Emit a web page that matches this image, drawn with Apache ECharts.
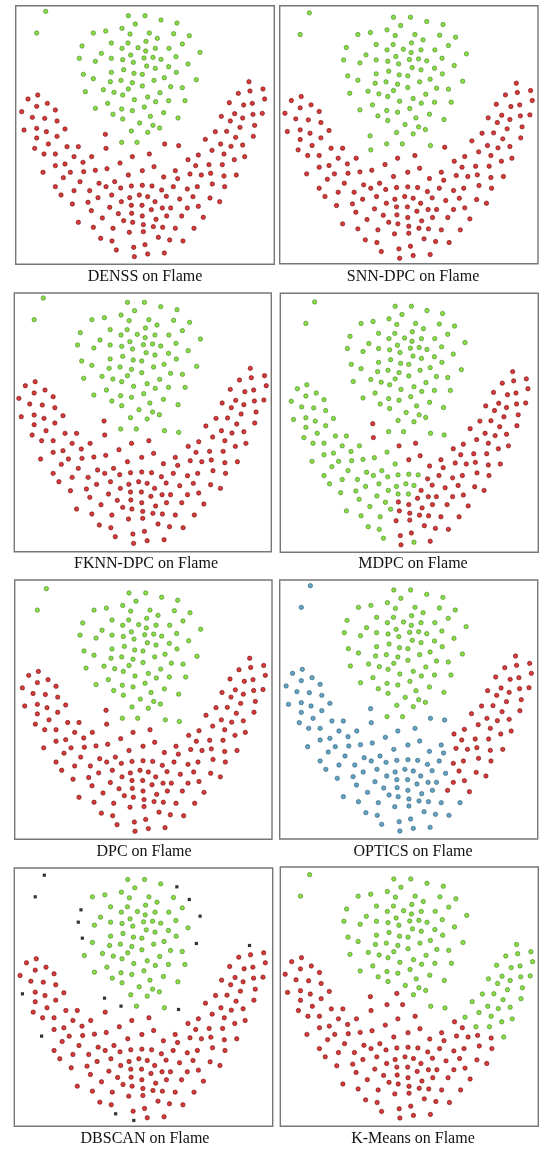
<!DOCTYPE html>
<html>
<head>
<meta charset="utf-8">
<script src="https://cdn.jsdelivr.net/npm/echarts@6/dist/echarts.min.js"></script>
<style>
  html, body { margin: 0; padding: 0; background: #fff; }
  #chart { width: 539px; height: 1149px; }
</style>
</head>
<body>
<div id="chart"></div>
<script>
// Flame data set, clustered by eight methods.
// Each point: [x, y, labels]; labels holds one character per method, in the
// order of `methods`: g = green cluster, r = red cluster, b = blue cluster, k = noise.
const methods = ['DENSS', 'SNN-DPC', 'FKNN-DPC', 'MDPC', 'DPC', 'OPTICS', 'DBSCAN', 'K-Means'];

// two isolated points in the upper-left corner
const outlierPoints = [
  [95, 22, 'gggggbkg'], [68, 87, 'gggggbkg']
];

// upper round blob
const blobPoints = [
  [343, 35, 'gggggggg'], [393, 35, 'gggggggg'], [441, 48, 'gggggggg'], [489, 57, 'ggggggkg'],
  [364, 60, 'gggggggg'], [275, 81, 'gggggggg'], [238, 87, 'gggggggg'], [324, 73, 'gggggggg'],
  [348, 90, 'gggggggg'], [406, 87, 'gggggggg'], [479, 89, 'gggggggg'], [526, 95, 'ggggggkg'],
  [430, 103, 'gggggggg'], [204, 126, 'ggggggkg'], [292, 117, 'gggggggg'], [342, 117, 'gggggggg'],
  [324, 133, 'gggggggg'], [372, 131, 'gggggggg'], [396, 112, 'gggggggg'], [424, 133, 'gggggggg'],
  [465, 133, 'gggggggg'], [505, 120, 'gggggggg'], [558, 145, 'ggggggkg'], [262, 148, 'gggggggg'],
  [196, 163, 'ggggggkg'], [244, 172, 'gggggggg'], [292, 163, 'gggggggg'], [326, 167, 'gggggggg'],
  [350, 153, 'gggggggg'], [390, 162, 'gggggggg'], [395, 141, 'gggggggg'], [417, 160, 'gggggggg'],
  [441, 166, 'gggggggg'], [486, 158, 'gggggggg'], [358, 175, 'gggggggg'], [398, 186, 'gggggggg'],
  [424, 193, 'gggggggg'], [464, 188, 'gggggggg'], [522, 180, 'gggggggg'], [208, 211, 'ggggggkg'],
  [292, 205, 'gggggggg'], [329, 197, 'gggggggg'], [360, 208, 'gggggggg'], [385, 211, 'gggggggg'],
  [451, 221, 'gggggggg'], [487, 205, 'gggggggg'], [238, 224, 'gggggggg'], [289, 233, 'gggggggg'],
  [321, 229, 'gggggggg'], [355, 236, 'gggggggg'], [420, 229, 'gggggggg'], [547, 227, 'ggggggkg'],
  [268, 257, 'gggggggg'], [300, 265, 'gggggggg'], [343, 255, 'gggggggg'], [385, 246, 'gggggggg'],
  [470, 248, 'gggggggg'], [505, 251, 'gggggggg'], [214, 263, 'gggggggg'], [326, 273, 'gggggggg'],
  [438, 266, 'gggggggg'], [401, 279, 'gggggggg'], [361, 287, 'gggggggg'], [425, 293, 'gggggggg'],
  [464, 290, 'gggggggg'], [513, 290, 'gggggggg'], [281, 298, 'gggggggg'], [244, 313, 'gggggggg'],
  [323, 315, 'gggggggg'], [355, 320, 'gggggggg'], [391, 309, 'gggggggg'], [449, 326, 'gggggggg'],
  [297, 331, 'gggggggg'], [409, 337, 'gggggggg'], [326, 345, 'gggggggg'], [492, 342, 'gggggggg'],
  [377, 357, 'gggggggg'], [417, 364, 'gggggggg'], [352, 381, 'gggggggr'], [401, 385, 'gggggggg'],
  [437, 372, 'gggggggg'], [323, 415, 'ggggggkr'], [369, 415, 'gggggggr']
];

// left arm of the lower band
const leftArmPoints = [
  [42, 285, 'rrrgrbrr'], [71, 273, 'rrrgrbrr'], [68, 307, 'rrrgrbrr'], [100, 298, 'rrrgrbrr'],
  [23, 323, 'rrrgrbrr'], [55, 340, 'rrrgrbrr'], [92, 343, 'rrrgrbrr'], [124, 318, 'rrrgrbrr'],
  [129, 351, 'rrrgrbrr'], [30, 378, 'rrrgrbkr'], [68, 373, 'rrrgrbrr'], [97, 383, 'rrrgrbrr'],
  [153, 375, 'rrrgrbrr'], [129, 397, 'rrrgrbrr'], [68, 402, 'rrrgrbrr'], [103, 420, 'rrrgrbrr'],
  [62, 433, 'rrrgrbrr'], [159, 428, 'rrrgrbrr'], [193, 428, 'rrrgrbrr'], [274, 391, 'rgrrrbkr'],
  [276, 433, 'rgrrrbrr'], [90, 450, 'rrrgrbrr'], [124, 450, 'rrrgrbrr'], [180, 458, 'rrrgrbrr'],
  [233, 458, 'rrrgrbrr'], [355, 458, 'rrrrrbrr'], [406, 450, 'rrrrrbrr'], [452, 420, 'rggggbgg'],
  [494, 425, 'rrgggbkg']
];

// right arm of the lower band
const rightArmPoints = [
  [705, 233, 'rrrrrrkg'], [747, 255, 'rrrrrrrg'], [673, 268, 'rrrrrrrg'], [708, 261, 'rrrrrrrg'],
  [752, 285, 'rrrrrrrg'], [646, 296, 'rrrrrrrg'], [689, 303, 'rrrrrrrg'], [715, 298, 'rrrrrrrg'],
  [622, 337, 'rrrrrrrg'], [662, 329, 'rrrrrrrg'], [686, 342, 'rrrrrrrg'], [717, 331, 'rrrrrrrg'],
  [745, 328, 'rrrrrrrg'], [649, 351, 'rrrrrrrg'], [678, 370, 'rrrrrrrg'], [722, 364, 'rrrrrrrg'],
  [604, 383, 'rrrrrrrg'], [638, 382, 'rrrrrrrg'], [574, 406, 'rrrrrrrg'], [665, 400, 'rrrrrrrg'],
  [718, 397, 'rrrrrrrg'], [686, 423, 'rrrrrrrg'], [620, 420, 'rrrrrrrg'], [651, 427, 'rrrrrrrg'],
  [594, 439, 'rrrrrrrg'], [553, 453, 'rrrrrrrg'], [630, 450, 'rrrrrrrg'], [692, 458, 'rrrrrrrg'],
  [661, 467, 'rrrrrrrg'], [522, 467, 'rrrrrrrr']
];

// bottom of the lower band
const basePoints = [
  [124, 485, 'rrrgrbrr'], [153, 480, 'rrrgrbrr'], [207, 475, 'rrrgrbrr'], [87, 505, 'rrrgrbkr'],
  [169, 505, 'rrrgrbrr'], [209, 503, 'rrrgrbrr'], [244, 499, 'rrrgrbrr'], [279, 494, 'rrrgrbrr'],
  [318, 477, 'rrrgrbrr'], [420, 488, 'rrrrrbrr'], [545, 485, 'rrrrrrrr'], [585, 482, 'rrrrrrrg'],
  [625, 482, 'rrrrrrrg'], [667, 513, 'rrrrrrrg'],
  [343, 513, 'rrrgrbrr'], [385, 500, 'rrrrrbrr'], [449, 519, 'rrrrrbrr'], [484, 500, 'rrrrrbrr'],
  [491, 524, 'rrrrrbrr'], [528, 510, 'rrrrrrrr'], [562, 513, 'rrrrrrrr'], [590, 508, 'rrrrrrrr'],
  [630, 516, 'rrrrrrrr'],
  [148, 521, 'rrrgrbrr'], [198, 533, 'rrrgrbrr'], [255, 538, 'rrrgrbrr'], [302, 533, 'rrrgrbrr'],
  [124, 548, 'rrrgrbrr'], [276, 548, 'rrrgrbrr'], [320, 552, 'rrrgrbrr'], [352, 546, 'rrrgrbrr'],
  [385, 544, 'rrrgrbrr'], [414, 546, 'rrrgrbrr'], [443, 558, 'rrrrrbrr'], [478, 548, 'rrrrrbrr'],
  [520, 555, 'rrrrrrrr'], [550, 548, 'rrrrrrrr'], [595, 540, 'rrrrrrrr'], [632, 548, 'rrrrrrrr'],
  [141, 573, 'rrrgrbrr'], [180, 560, 'rrrgrbrr'], [227, 560, 'rrrgrbrr'], [252, 581, 'rrrgrbrr'],
  [293, 573, 'rrrgrbrr'], [322, 593, 'rrrgrbrr'], [347, 581, 'rrrgrbrr'], [376, 573, 'rrrgrbrr'],
  [401, 578, 'rrrgrbrr'], [423, 593, 'rrrrrbrr'], [457, 577, 'rrrrrbrr'], [497, 585, 'rrrrrbrr'],
  [537, 578, 'rrrrrrrr'], [588, 582, 'rrrrrrrr'], [617, 593, 'rrrrrrrr'],
  [175, 600, 'rrrgrbrr'], [222, 595, 'rrrgrbrr'], [232, 620, 'rrrgrbrr'], [287, 610, 'rrrgrbrr'],
  [352, 604, 'rrrgrbrr'], [384, 604, 'rrrgrbrr'], [412, 617, 'rrrrrbrr'], [445, 612, 'rrrrrbrr'],
  [470, 612, 'rrrrrbrr'], [520, 612, 'rrrrrrrr'], [553, 607, 'rrrrrrrr'],
  [193, 655, 'rrrgrbrr'], [265, 642, 'rrrgrbrr'], [313, 629, 'rrrgrbrr'], [329, 650, 'rrrgrbrr'],
  [353, 628, 'rrrrrbrr'], [356, 655, 'rrrrrbrr'], [385, 636, 'rrrrrbrr'], [426, 646, 'rrrrrbrr'],
  [458, 636, 'rrrrrbrr'], [503, 636, 'rrrrrrrr'], [568, 640, 'rrrrrrrr'],
  [238, 670, 'rrrgrbrr'], [297, 673, 'rrrgrbrr'], [346, 685, 'rrrrrbrr'], [388, 662, 'rrrrrbrr'],
  [418, 668, 'rrrrrbrr'], [446, 670, 'rrrrrbrr'], [484, 673, 'rrrrrbrr'], [540, 673, 'rrrrrbrr'],
  [260, 703, 'rrrgrbrr'], [294, 711, 'rrrgrbrr'], [388, 683, 'rrrrrbrr'], [433, 700, 'rrrrrbrr'],
  [467, 708, 'rrrrrbrr'], [507, 711, 'rrrrrbrr'],
  [307, 738, 'rrrgrbkr'], [359, 730, 'rrrrrbrr'], [393, 722, 'rrrrrbrr'], [361, 758, 'rrrrrbkr'],
  [401, 750, 'rrrgrbrr'], [451, 747, 'rrrrrbrr']
];

const allPoints = [].concat(outlierPoints, blobPoints, leftArmPoints, rightArmPoints, basePoints);

// panel frames (px) and the x / y extent each one shows
const panelBoxes = [
  { left: 15.7,  top: 5.7,  width: 258.6, height: 258.6, x: [5, 781],      y: [5, 781] },
  { left: 279.7, top: 5.7,  width: 258.3, height: 258.0, x: [7.6, 768.9],  y: [0.5, 774.5] },
  { left: 14.3,  top: 293,  width: 257.0, height: 258.7, x: [9.5, 766.9],  y: [7, 783] },
  { left: 280.3, top: 293.3,width: 258.0, height: 259.0, x: [-10.7, 783.9],y: [-4.3, 780.6] },
  { left: 14.7,  top: 580,  width: 257.3, height: 259.3, x: [0, 772],      y: [-4.3, 782.4] },
  { left: 279.7, top: 580,  width: 258.0, height: 259.0, x: [3.8, 770.9],  y: [5, 782] },
  { left: 14.3,  top: 868,  width: 258.4, height: 258.3, x: [5.8, 773.9],  y: [0.5, 775.5] },
  { left: 280.3, top: 867,  width: 258.0, height: 259.3, x: [8.6, 768.9],  y: [-1.2, 783] }
];
const captionPos = [[145, 277], [413, 277], [146, 564], [413, 564], [144, 851.5], [413, 851.5], [145, 1138.5], [413, 1138.5]];

const markStyles = {
  g: { symbol: 'circle', symbolSize: 4.4, itemStyle: { color: '#6cd41a', borderColor: '#3a7a12', borderWidth: 0.7 } },
  r: { symbol: 'circle', symbolSize: 4.4, itemStyle: { color: '#cc0a0a', borderColor: '#6a0404', borderWidth: 0.7 } },
  b: { symbol: 'circle', symbolSize: 4.4, itemStyle: { color: '#3d8cb3', borderColor: '#1f536e', borderWidth: 0.7 } },
  k: { symbol: 'rect',   symbolSize: 3.2, itemStyle: { color: '#000000', borderWidth: 0 } }
};

const grid = [], xAxis = [], yAxis = [], series = [], graphic = [];
panelBoxes.forEach((box, p) => {
  grid.push({ left: box.left, top: box.top, width: box.width, height: box.height,
    show: true, borderColor: '#777777', borderWidth: 1.4, backgroundColor: '#fff' });
  xAxis.push({ gridIndex: p, type: 'value', min: box.x[0], max: box.x[1], show: false });
  yAxis.push({ gridIndex: p, type: 'value', min: box.y[0], max: box.y[1], inverse: true, show: false });
  ['g', 'r', 'b', 'k'].forEach(c => {
    const data = allPoints.filter(pt => pt[2][p] === c).map(pt => [pt[0], pt[1]]);
    if (!data.length) return;
    series.push(Object.assign({
      type: 'scatter', name: methods[p] + '-' + c, xAxisIndex: p, yAxisIndex: p,
      data: data, silent: true
    }, markStyles[c]));
  });
  graphic.push({
    type: 'text', x: captionPos[p][0], y: captionPos[p][1],
    style: { text: methods[p] + ' on Flame', font: '16px "Liberation Serif", "Times New Roman", serif',
      fill: '#111', textAlign: 'center', textVerticalAlign: 'middle', verticalAlign: 'middle' }
  });
});

const chart = echarts.init(document.getElementById('chart'), null, { renderer: 'canvas' });
chart.setOption({ animation: false, backgroundColor: '#fff', grid, xAxis, yAxis, series, graphic });
</script>
</body>
</html>
